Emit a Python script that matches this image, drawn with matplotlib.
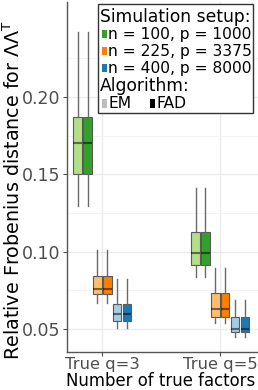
import matplotlib
matplotlib.use("Agg")
import matplotlib.pyplot as plt
from matplotlib.patches import Rectangle

plt.rcParams['font.family'] = ['DejaVu Sans']
plt.rcParams['mathtext.fontset'] = 'dejavusans'

# data: one entry per box, order = q3 (6 boxes) then q5 (6 boxes)
groups = ["True q=3", "True q=5"]
setups = ["n = 100, p = 1000", "n = 225, p = 3375", "n = 400, p = 8000"]
algos = ["EM", "FAD"]
whislo = [0.1295, 0.1295, 0.0668, 0.0668, 0.0506, 0.0506,
          0.0836, 0.0836, 0.0540, 0.0540, 0.0448, 0.0448]
q1 = [0.150, 0.150, 0.0726, 0.0726, 0.0552, 0.0552,
      0.0914, 0.0914, 0.0578, 0.0578, 0.0480, 0.0480]
med = [0.170, 0.170, 0.0759, 0.0759, 0.0597, 0.0597,
       0.0990, 0.0990, 0.0630, 0.0630, 0.0500, 0.0500]
q3 = [0.187, 0.187, 0.0843, 0.0843, 0.0662, 0.0662,
      0.1128, 0.1128, 0.0733, 0.0733, 0.0578, 0.0578]
whishi = [0.242, 0.242, 0.101, 0.101, 0.0823, 0.0823,
          0.1412, 0.1412, 0.0895, 0.0895, 0.0688, 0.0688]

light = ['#b2df8a', '#fdbf6f', '#a6cee3']
dark = ['#33a02c', '#ff7f00', '#1f78b4']

W, H = 258, 390
fig = plt.figure(figsize=(W / 100, H / 100), dpi=100)
ax = fig.add_axes([67 / W, 38 / H, 191 / W, 350 / H])

slot = 0.084
stats, pos, cols = [], [], []
k = 0
for g in range(2):
    for s in range(3):
        for a in range(2):
            stats.append(dict(whislo=whislo[k], q1=q1[k], med=med[k], q3=q3[k],
                              whishi=whishi[k], fliers=[]))
            pos.append(g + 1 + (s * 2 + a - 2.5) * slot)
            cols.append(light[s] if a == 0 else dark[s])
            k += 1

bp = ax.bxp(stats, positions=pos, widths=0.072, patch_artist=True, showcaps=False,
            boxprops=dict(edgecolor='#5a5a5a', linewidth=0.8),
            whiskerprops=dict(color='#6a6a6a', linewidth=1.0),
            medianprops=dict(color='black', alpha=0.5, linewidth=1.5),
            manage_ticks=False, zorder=3)
for b, c in zip(bp['boxes'], cols):
    b.set_facecolor(c)

ax.set_xlim(0.7, 2.32)
ax.set_ylim(0.0351, 0.2614)
ax.set_xticks([1, 2])
ax.set_xticklabels(groups)
ax.set_yticks([0.05, 0.10, 0.15, 0.20])
ax.set_yticklabels(["0.05", "0.10", "0.15", "0.20"])
ax.set_yticks([0.075, 0.125, 0.175, 0.225], minor=True)
ax.tick_params(axis='x', labelsize=11.8, colors='#4d4d4d', length=3, pad=0.8)
ax.tick_params(axis='y', labelsize=12.5, colors='#4d4d4d', length=3, pad=2)
ax.tick_params(axis='y', which='minor', length=0)
ax.grid(True, which='major', color='#ebebeb', linewidth=1.0, zorder=0)
ax.grid(True, which='minor', axis='y', color='#f2f2f2', linewidth=0.6, zorder=0)
ax.set_axisbelow(True)
for sp in ['top', 'right']:
    ax.spines[sp].set_visible(False)
for sp in ['left', 'bottom']:
    ax.spines[sp].set_color('#555555')
    ax.spines[sp].set_linewidth(1.0)

fig.text(161 / W, 1 - 386.5 / H, "Number of true factors", fontsize=11.9,
         ha='center', va='baseline')
fig.text(13 / W, 1 - 190 / H, r'Relative Frobenius distance for ΛΛ$^{\mathrm{T}}$',
         rotation=90, ha='center', va='center', fontsize=13.8)

# legend drawn by hand: frame, titles, keys
def px(x, y):
    return x / W, 1 - y / H

fig.patches.append(Rectangle(px(98, 113), 155 / W, 109 / H, transform=fig.transFigure,
                             facecolor='white', edgecolor='#333333', linewidth=1.0, zorder=5))
fs_title, fs = 12.3, 11.2
fig.text(*px(100, 22), "Simulation setup:", fontsize=fs_title, va='baseline', zorder=6)
for i, (lab, c) in enumerate(zip(setups, dark)):
    yb = 39 + i * 17
    fig.patches.append(Rectangle(px(102, yb - 1.5), 5 / W, 7.5 / H, transform=fig.transFigure,
                                 facecolor=c, edgecolor='none', zorder=6))
    fig.text(*px(108, yb), lab, fontsize=fs, va='baseline', zorder=6)
fig.text(*px(100, 91), "Algorithm:", fontsize=fs_title, va='baseline', zorder=6)
for x0, lab, c in [(102, algos[0], '#bdbdbd'), (150, algos[1], 'black')]:
    fig.patches.append(Rectangle(px(x0, 108), 5 / W, 9 / H, transform=fig.transFigure,
                                 facecolor=c, edgecolor='none', zorder=6))
    fig.text(*px(x0 + 6, 108), lab, fontsize=fs, va='baseline', zorder=6)

fig.savefig("out.png", dpi=100)
